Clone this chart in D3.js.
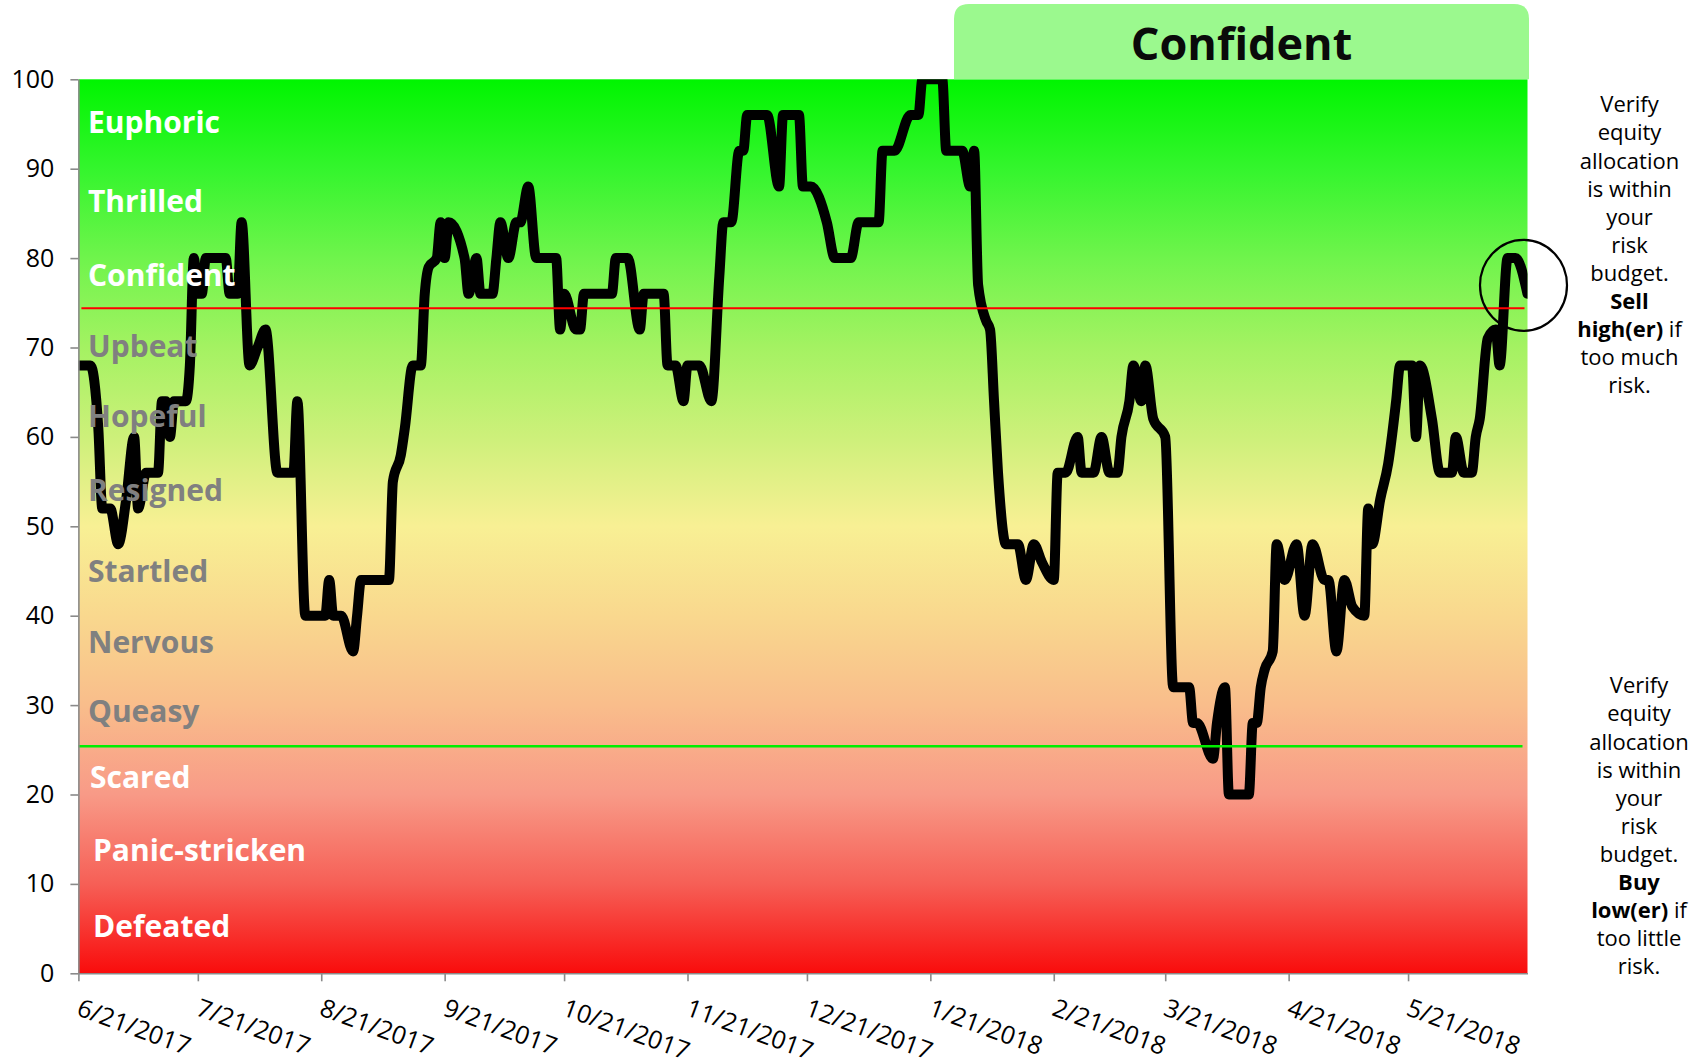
<!DOCTYPE html>
<html>
<head>
<meta charset="utf-8">
<script src="https://cdn.jsdelivr.net/npm/d3@7"></script>
<style>
  html, body { margin: 0; padding: 0; background: #ffffff; }
  svg { display: block; font-family: "Open Sans", "Noto Sans", sans-serif; }
</style>
</head>
<body>
<svg id="chart" width="1705" height="1061"></svg>
<script>
// Sentiment readings (turning points of the daily series)
const dates = [
  "2017-06-21","2017-06-24","2017-06-26","2017-06-27","2017-06-29","2017-07-01","2017-07-03","2017-07-05",
  "2017-07-06","2017-07-08","2017-07-11","2017-07-12","2017-07-13","2017-07-14","2017-07-15","2017-07-18",
  "2017-07-19","2017-07-20","2017-07-21","2017-07-22","2017-07-23","2017-07-28","2017-07-29","2017-07-31",
  "2017-08-01","2017-08-03","2017-08-05","2017-08-07","2017-08-10","2017-08-14","2017-08-15","2017-08-17",
  "2017-08-22","2017-08-23","2017-08-24","2017-08-26","2017-08-29","2017-08-30","2017-08-31","2017-09-07",
  "2017-09-08","2017-09-10","2017-09-11","2017-09-13","2017-09-15","2017-09-16","2017-09-17","2017-09-19",
  "2017-09-20","2017-09-21","2017-09-22","2017-09-26","2017-09-27","2017-09-29","2017-09-30","2017-10-03",
  "2017-10-04","2017-10-05","2017-10-07","2017-10-09","2017-10-10","2017-10-12","2017-10-14","2017-10-19",
  "2017-10-20","2017-10-21","2017-10-24","2017-10-25","2017-10-26","2017-11-02","2017-11-03","2017-11-06",
  "2017-11-09","2017-11-10","2017-11-15","2017-11-16","2017-11-18","2017-11-20","2017-11-21","2017-11-24",
  "2017-11-27","2017-11-29","2017-11-30","2017-12-02","2017-12-04","2017-12-05","2017-12-06","2017-12-11",
  "2017-12-14","2017-12-15","2017-12-19","2017-12-20","2017-12-22","2017-12-26","2017-12-28","2018-01-01",
  "2018-01-03","2018-01-08","2018-01-09","2018-01-12","2018-01-16","2018-01-18","2018-01-19","2018-01-24",
  "2018-01-25","2018-01-29","2018-01-31","2018-02-01","2018-02-02","2018-02-04","2018-02-05","2018-02-06",
  "2018-02-07","2018-02-09","2018-02-12","2018-02-14","2018-02-16","2018-02-18","2018-02-21","2018-02-22",
  "2018-02-24","2018-02-27","2018-02-28","2018-03-03","2018-03-05","2018-03-07","2018-03-09","2018-03-10",
  "2018-03-12","2018-03-13","2018-03-15","2018-03-16","2018-03-18","2018-03-21","2018-03-23","2018-03-27",
  "2018-03-28","2018-03-29","2018-04-02","2018-04-03","2018-04-05","2018-04-06","2018-04-11","2018-04-12",
  "2018-04-13","2018-04-14","2018-04-15","2018-04-17","2018-04-18","2018-04-20","2018-04-23","2018-04-25",
  "2018-04-27","2018-04-30","2018-05-01","2018-05-03","2018-05-05","2018-05-07","2018-05-10","2018-05-11",
  "2018-05-12","2018-05-14","2018-05-16","2018-05-18","2018-05-19","2018-05-22","2018-05-23","2018-05-24",
  "2018-05-27","2018-05-29","2018-06-01","2018-06-02","2018-06-04","2018-06-06","2018-06-07","2018-06-08",
  "2018-06-10","2018-06-12","2018-06-13","2018-06-15","2018-06-17","2018-06-20"
];
const sentiment = [
  68,68,61,52,52,48,53,60,
  52,56,56,64,64,60,64,64,
  68,80,76,76,80,80,76,76,
  84,68,70,72,56,56,64,40,
  40,44,40,40,36,40,44,44,
  55,58,61,68,68,76,79,80,
  84,80,84,80,76,80,76,76,
  80,84,80,84,84,88,80,80,
  72,76,72,72,76,76,80,80,
  72,76,76,68,68,64,68,68,
  64,78,84,84,92,92,96,96,
  88,96,96,88,88,84,80,80,
  84,84,92,92,96,96,100,100,
  92,92,88,92,77,73,72,64,
  56,48,48,44,48,46,44,56,
  56,60,56,56,60,56,56,60,
  64,68,64,68,62,60,32,32,
  28,28,24,28,32,20,20,28,
  28,32,34,36,48,44,48,40,
  48,44,44,36,44,41,40,52,
  48,53,57,64,68,68,60,68,
  62,56,56,60,56,56,60,62,
  71,72,68,80,80,76
];

// Axis ticks
const yTicks = [0, 10, 20, 30, 40, 50, 60, 70, 80, 90, 100];
const xTickDates = [
  "2017-06-21","2017-07-21","2017-08-21","2017-09-21","2017-10-21","2017-11-21",
  "2017-12-21","2018-01-21","2018-02-21","2018-03-21","2018-04-21","2018-05-21"
];

// Mood names down the scale, and where each sits on the 0-100 scale
const moodNames = ["Euphoric","Thrilled","Confident","Upbeat","Hopeful","Resigned",
                   "Startled","Nervous","Queasy","Scared","Panic-stricken","Defeated"];
const moodLevels = [95.2, 86.3, 78.1, 70.1, 62.3, 54.0, 45.0, 37.0, 29.3, 21.9, 13.8, 5.3];

// Sell / buy thresholds
const sellLevel = 74.4;
const buyLevel = 25.4;

// Current mood heading
const currentMood = "Confident";

// Side notes: [text, bold] segments per line
const sellNote = [
  [["Verify", false]], [["equity", false]], [["allocation", false]], [["is within", false]],
  [["your", false]], [["risk", false]], [["budget.", false]], [["Sell", true]],
  [["high(er)", true], [" if", false]], [["too much", false]], [["risk.", false]]
];
const buyNote = [
  [["Verify", false]], [["equity", false]], [["allocation", false]], [["is within", false]],
  [["your", false]], [["risk", false]], [["budget.", false]], [["Buy", true]],
  [["low(er)", true], [" if", false]], [["too little", false]], [["risk.", false]]
];

// ---------------------------------------------------------------------------
const svg = d3.select("#chart");
const plot = { left: 78.4, right: 1527.5, top: 79.3, bottom: 973.3 };
const parse = d3.utcParse("%Y-%m-%d");
const series = dates.map((d, i) => ({ date: parse(d), value: sentiment[i] }));

const x = d3.scaleUtc()
  .domain([series[0].date, series[series.length - 1].date])
  .range([plot.left, plot.right]);
const y = d3.scaleLinear().domain([0, 100]).range([plot.bottom, plot.top]);

const defs = svg.append("defs");

// Green-to-red background
const grad = defs.append("linearGradient")
  .attr("id", "moodGradient")
  .attr("x1", 0).attr("y1", 0).attr("x2", 0).attr("y2", 1);
[
  [0.00, "#00f500"], [0.10, "#34f52d"], [0.20, "#6ff44c"], [0.30, "#a4f262"],
  [0.40, "#cdf07a"], [0.50, "#f8f094"], [0.60, "#f9d88e"], [0.70, "#f9bd8b"],
  [0.80, "#f89a87"], [0.90, "#f65f56"], [1.00, "#f90c0c"]
].forEach(([o, c]) => grad.append("stop").attr("offset", o).attr("stop-color", c));

defs.append("clipPath").attr("id", "plotClip")
  .append("rect")
  .attr("x", plot.left).attr("y", plot.top)
  .attr("width", plot.right - plot.left).attr("height", plot.bottom - plot.top);

svg.append("rect")
  .attr("x", plot.left).attr("y", plot.top)
  .attr("width", plot.right - plot.left).attr("height", plot.bottom - plot.top)
  .attr("fill", "url(#moodGradient)");

// Heading tab above the plot
const tab = { x0: 954, x1: 1529, y0: 4, r: 15 };
svg.append("path")
  .attr("d", `M${tab.x0},${plot.top} V${tab.y0 + tab.r} Q${tab.x0},${tab.y0} ${tab.x0 + tab.r},${tab.y0}
              H${tab.x1 - tab.r} Q${tab.x1},${tab.y0} ${tab.x1},${tab.y0 + tab.r} V${plot.top} Z`)
  .attr("fill", "#9bf98e");
svg.append("text")
  .attr("x", (tab.x0 + tab.x1) / 2).attr("y", 60)
  .attr("text-anchor", "middle")
  .attr("font-size", 45).attr("font-weight", 700).attr("fill", "#0a0a0a")
  .text(currentMood);

// Sentiment line
const line = d3.line()
  .x(d => x(d.date))
  .y(d => y(d.value))
  .curve(d3.curveMonotoneX);
svg.append("path")
  .datum(series)
  .attr("clip-path", "url(#plotClip)")
  .attr("d", line)
  .attr("fill", "none")
  .attr("stroke", "#000000")
  .attr("stroke-width", 10)
  .attr("stroke-linejoin", "round")
  .attr("stroke-linecap", "round");

// Mood names, written over the line
const whiteMoods = new Set(["Euphoric","Thrilled","Confident","Scared","Panic-stricken","Defeated"]);
const moodX = { "Scared": 90, "Panic-stricken": 93, "Defeated": 93 };
svg.append("g")
  .selectAll("text")
  .data(moodNames)
  .join("text")
  .attr("x", d => moodX[d] || 88)
  .attr("y", (d, i) => y(moodLevels[i]))
  .attr("dy", "0.357em")
  .attr("font-size", 30).attr("font-weight", 700)
  .attr("fill", d => whiteMoods.has(d) ? "#ffffff" : "#808080")
  .text(d => d);

// Threshold lines
const [xStart, xEnd] = x.domain();
svg.append("line")
  .attr("x1", x(xStart) + 3).attr("x2", x(xEnd) - 3)
  .attr("y1", y(sellLevel)).attr("y2", y(sellLevel))
  .attr("stroke", "#ff0000").attr("stroke-width", 2);
svg.append("line")
  .attr("x1", x(xStart)).attr("x2", x(xEnd) - 5)
  .attr("y1", y(buyLevel)).attr("y2", y(buyLevel))
  .attr("stroke", "#00ee00").attr("stroke-width", 2.5);

// Ring round the latest reading
const last = series[series.length - 1];
svg.append("ellipse")
  .attr("cx", x(last.date) - 4).attr("cy", y(last.value) - 8.5)
  .attr("rx", 43.5).attr("ry", 45.5)
  .attr("fill", "none").attr("stroke", "#000").attr("stroke-width", 2.2);

// Axes
const axisColor = "#8a8a8a";
const yAxis = svg.append("g")
  .attr("transform", `translate(${plot.left},0)`)
  .call(d3.axisLeft(y).tickValues(yTicks).tickSize(8).tickSizeOuter(0).tickPadding(16));
const xAxis = svg.append("g")
  .attr("transform", `translate(0,${plot.bottom})`)
  .call(d3.axisBottom(x).tickValues(xTickDates.map(parse)).tickSize(8).tickSizeOuter(0)
        .tickFormat(d3.utcFormat("%-m/%-d/%Y")));

[yAxis, xAxis].forEach(g => {
  g.select(".domain").attr("stroke", axisColor).attr("stroke-width", 1.6);
  g.selectAll(".tick line").attr("stroke", axisColor).attr("stroke-width", 1.6);
  g.selectAll(".tick text")
    .attr("fill", "#000")
    .attr("font-size", 25)
    .attr("font-family", "'Open Sans', 'Noto Sans', sans-serif");
});
xAxis.selectAll(".tick text")
  .attr("text-anchor", "start")
  .attr("x", 0).attr("y", 0).attr("dy", 0)
  .attr("transform", "translate(-3.5,41.5) rotate(20)");

// Side notes
function drawNote(lines, cx, firstBaseline) {
  const t = svg.append("text")
    .attr("text-anchor", "middle")
    .attr("font-size", 22)
    .attr("fill", "#000");
  lines.forEach((segs, i) => {
    const row = t.append("tspan").attr("x", cx).attr("y", firstBaseline + i * 28.1);
    segs.forEach(([s, bold]) => {
      row.append("tspan").attr("font-weight", bold ? 700 : 400).text(s);
    });
  });
}
drawNote(sellNote, 1629.5, 112.3);
drawNote(buyNote, 1639, 693.3);
</script>
</body>
</html>
